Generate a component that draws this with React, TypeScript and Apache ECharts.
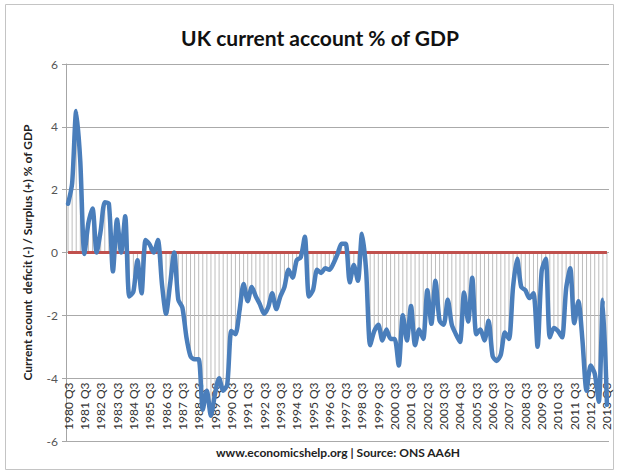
import React, { useEffect, useRef } from "react";
import * as echarts from "echarts";

const startYear = 1980;
const startQuarter = 3;
const yTicks = [-6, -4, -2, 0, 2, 4, 6];
const currentAccount = [
  1.55, 2.2, 4.5, 2.9, -0.05, 0.95, 1.4, 0.0, 0.7, 1.6,
  1.55, -0.6, 1.05, 0.0, 1.15, -1.4, -1.25, -0.25, -1.3, 0.4,
  0.25, 0.0, 0.4, -1.0, -1.95, -1.0, 0.0, -1.5, -1.75, -2.7,
  -3.3, -3.4, -3.4, -5.0, -4.4, -5.2, -4.5, -4.0, -4.4, -4.2,
  -2.5, -2.6, -1.85, -1.0, -1.55, -1.1, -1.4, -1.65, -1.95, -1.75,
  -1.3, -1.8, -1.4, -1.1, -0.55, -0.8, -0.25, -0.15, 0.5, -1.4,
  -1.2, -0.55, -0.65, -0.5, -0.55, -0.35, -0.05, 0.28, 0.28, -0.95,
  -0.4, -0.9, 0.6, -0.55, -2.95, -2.5, -2.3, -2.8, -2.45, -2.75,
  -2.75, -3.6, -2.0, -2.8, -1.7, -2.95, -2.45, -2.75, -1.2, -2.27,
  -0.9, -2.17, -2.3, -1.5, -2.3, -2.6, -2.85, -1.27, -2.2, -0.8,
  -2.6, -2.45, -2.8, -2.17, -3.3, -3.45, -3.25, -2.55, -2.75, -1.1,
  -0.2, -1.1, -1.2, -1.45, -1.3, -3.0, -0.6, -0.2, -2.7, -2.4,
  -2.5, -2.7, -1.15, -0.5, -2.25, -1.55, -2.8, -4.4, -3.6, -3.85,
  -4.75, -1.5, -4.85,
];

const categories: string[] = currentAccount.map((_, i) => {
  const q0 = startQuarter - 1 + i;
  return `${startYear + Math.floor(q0 / 4)} Q${(q0 % 4) + 1}`;
});
const zeroLine = currentAccount.map(() => 0);

export default function App() {
  const ref = useRef<HTMLDivElement>(null);
  useEffect(() => {
    if (!ref.current) return;
    const chart = echarts.init(ref.current, null, { renderer: "svg" });
    chart.setOption({
      animation: false,
      backgroundColor: "#ffffff",
      textStyle: { fontFamily: "Lato" },
      title: {
        text: "UK current account % of GDP",
        left: 315,
        textAlign: "center",
        top: 22,
        textStyle: { fontFamily: "Lato", fontSize: 21, fontWeight: "bold", color: "#111" },
      },
      graphic: [
        {
          type: "rect",
          shape: { x: 5.5, y: 4.5, width: 608, height: 465 },
          style: { fill: "none", stroke: "#c4c4c4", lineWidth: 1 },
          silent: true,
        },
        {
          type: "text",
          x: 338,
          y: 452,
          style: {
            text: "www.economicshelp.org | Source: ONS AA6H",
            fontFamily: "Lato",
            fontSize: 12,
            fontWeight: "bold",
            fill: "#222",
            textAlign: "center",
            textVerticalAlign: "middle",
          },
        },
      ],
      grid: { left: 66, right: 11, top: 64, bottom: 33 },
      xAxis: {
        type: "category",
        data: categories,
        boundaryGap: true,
        axisLine: { show: false },
        axisTick: { show: false },
        axisLabel: {
          interval: 3,
          rotate: 90,
          inside: true,
          margin: 11,
          fontSize: 12,
          color: "#333",
          fontFamily: "Lato",
        },
        splitLine: { show: false },
      },
      yAxis: {
        type: "value",
        min: yTicks[0],
        max: yTicks[yTicks.length - 1],
        interval: 2,
        name: "Current acount  deficit (-) / Surplus (+) % of GDP",
        nameLocation: "middle",
        nameGap: 33,
        nameTextStyle: { fontFamily: "Lato", fontSize: 12, fontWeight: "bold", color: "#222" },
        axisLine: { show: true, lineStyle: { color: "#a6a6a6", width: 1 } },
        axisTick: { show: true, length: 4, lineStyle: { color: "#a6a6a6" } },
        axisLabel: { fontSize: 12, color: "#555", margin: 8, fontFamily: "Lato" },
        splitLine: { lineStyle: { color: "#aaaaaa", width: 1.2 } },
      },
      series: [
        {
          type: "bar",
          data: currentAccount,
          barWidth: 1,
          itemStyle: { color: "#bdbdbd" },
          silent: true,
          z: 1,
        },
        {
          type: "line",
          data: zeroLine,
          symbol: "none",
          lineStyle: { color: "#c0504d", width: 3 },
          silent: true,
          z: 2,
        },
        {
          type: "line",
          data: currentAccount,
          symbol: "none",
          smooth: 0.25,
          lineStyle: { color: "#4a7ebb", width: 4.5, join: "round", cap: "round" },
          z: 3,
        },
      ],
    });
    return () => chart.dispose();
  }, []);
  return (
    <div
      ref={ref}
      style={{ position: "fixed", left: 0, top: 0, width: 620, height: 474 }}
    />
  );
}
